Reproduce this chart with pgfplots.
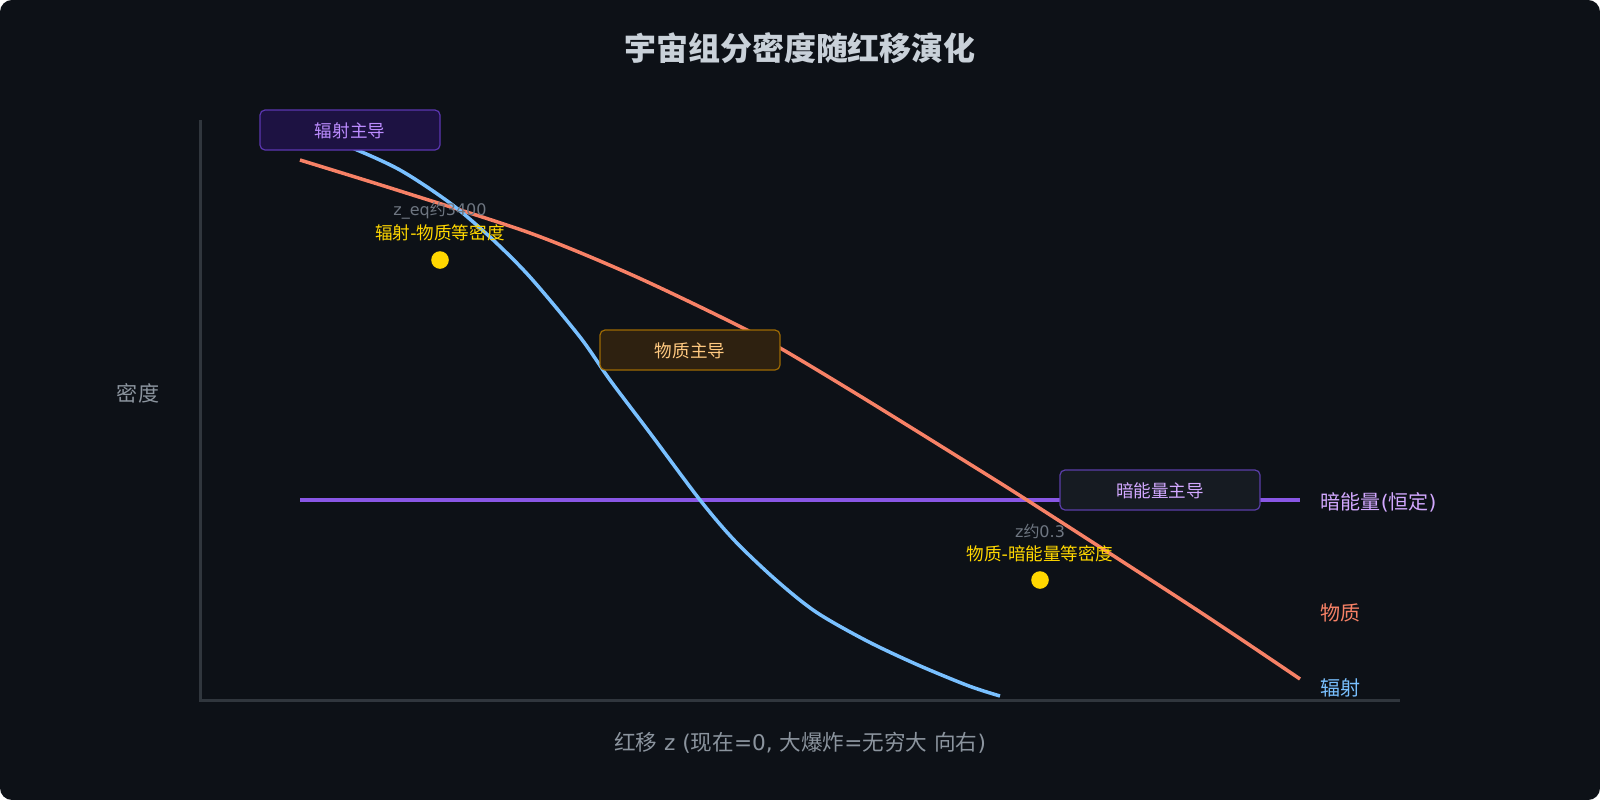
\documentclass[border=0pt]{standalone}
\usepackage{pgfplots}
\pgfplotsset{compat=1.18}
\usepackage{fontspec}
\setmainfont{Noto Sans CJK SC}
\newfontfamily\dv{DejaVu Sans}
\newcommand{\La}[1]{{\dv #1}}
\definecolor{bg}{HTML}{0D1117}
\definecolor{axcol}{HTML}{30363D}
\definecolor{titlecol}{HTML}{C9D1D9}
\definecolor{labcol}{HTML}{8B949E}
\definecolor{notecol}{HTML}{6E7681}
\definecolor{radcol}{HTML}{79C0FF}
\definecolor{matcol}{HTML}{F78166}
\definecolor{decol}{HTML}{8957E5}
\definecolor{gold}{HTML}{FFD700}
\definecolor{lav}{HTML}{D2A8FF}
\definecolor{radfill}{HTML}{1D1242}
\definecolor{radborder}{HTML}{5B36B0}
\definecolor{radtext}{HTML}{BC8CFF}
\definecolor{matfill}{HTML}{2E2110}
\definecolor{matborder}{HTML}{9E6A03}
\definecolor{mattext}{HTML}{FFC980}
\definecolor{defill}{HTML}{161B22}
\definecolor{deborder}{HTML}{5A3EA8}
\newcommand{\fs}[1]{\fontsize{#1}{#1}\selectfont}
\begin{document}
\begin{tikzpicture}
\fill[bg, rounded corners=1.2mm] (0,0) rectangle (16cm,8cm);
\begin{axis}[
  at={(0,0)}, anchor=south west,
  scale only axis, width=16cm, height=8cm,
  xmin=0, xmax=1600, ymin=0, ymax=800, y dir=reverse,
  hide axis, clip=false,
]
% axis lines
\draw[axcol, line width=0.3mm] (axis cs:200,120) -- (axis cs:200,700) -- (axis cs:1400,700);
% dark energy (constant)
\addplot[decol, line width=0.4mm] coordinates {(300,500) (1300,500)};
% matter
\addplot[matcol, line width=0.35mm, smooth] coordinates {
(300,160) (400,191) (530,233) (630,274) (727,320) (780,348) (860,396)
(960,458) (1030,502) (1197,610) (1300,679)};
% radiation
\addplot[radcol, line width=0.35mm, smooth] coordinates {
(300,128) (350,147) (400,170) (450,203) (490,237) (530,277) (580,337)
(610,380) (650,433) (700,500) (735,541) (776,580) (816,612) (867,641)
(918,665) (969,686) (1000,696)};
% equality points
\addplot[only marks, mark=*, mark size=2.3pt, gold, mark options={draw=gold, fill=gold}]
  coordinates {(440,260) (1040,580)};
% region boxes
\draw[radborder, fill=radfill, line width=0.12mm, rounded corners=0.5mm]
  (axis cs:260,110) rectangle (axis cs:440,150);
\node[radtext, font=\fs{5pt}] at (axis cs:350,131) {辐射主导};
\draw[matborder, fill=matfill, line width=0.12mm, rounded corners=0.5mm]
  (axis cs:600,330) rectangle (axis cs:780,370);
\node[mattext, font=\fs{5pt}] at (axis cs:690,351) {物质主导};
\draw[deborder, fill=defill, line width=0.12mm, rounded corners=0.5mm]
  (axis cs:1060,470) rectangle (axis cs:1260,510);
\node[lav, font=\fs{5pt}] at (axis cs:1160,491) {暗能量主导};
% annotations
\node[notecol, font=\fs{4.55pt}] at (axis cs:440,211) {\La{z\_eq}约\La{3400}};
\node[gold, font=\fs{5pt}] at (axis cs:440,233) {辐射\La{-}物质等密度};
\node[notecol, font=\fs{4.55pt}] at (axis cs:1040,531) {\La{z}约\La{0.3}};
\node[gold, font=\fs{5pt}] at (axis cs:1040,554) {物质\La{-}暗能量等密度};
% end labels
\node[lav, font=\fs{5.7pt}, anchor=west, inner sep=0pt] at (axis cs:1320,502) {暗能量\La{(}恒定\La{)}};
\node[matcol, font=\fs{5.7pt}, anchor=west, inner sep=0pt] at (axis cs:1320,613) {物质};
\node[radcol, font=\fs{5.7pt}, anchor=west, inner sep=0pt] at (axis cs:1320,688) {辐射};
% title and axis labels
\node[titlecol, font=\fs{9.1pt}\bfseries] at (axis cs:800,48) {宇宙组分密度随红移演化};
\node[labcol, font=\fs{6pt}] at (axis cs:138,393) {密度};
\node[labcol, font=\fs{6.15pt}] at (axis cs:800,743) {红移\La{ z (}现在\La{=0, }大爆炸\La{=}无穷大\La{ }向右\La{)}};
\end{axis}
\end{tikzpicture}
\end{document}
